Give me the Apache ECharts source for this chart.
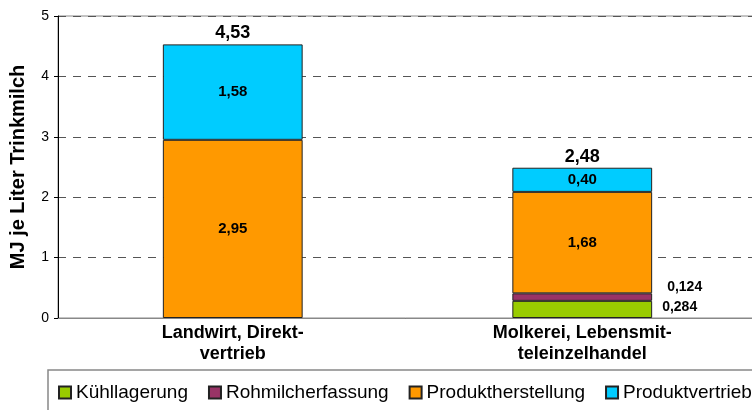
<!DOCTYPE html>
<html>
<head>
<meta charset="utf-8">
<script src="https://cdn.jsdelivr.net/npm/echarts@6/dist/echarts.min.js"></script>
<style>
  html, body { margin: 0; padding: 0; background: #fff; }
  #chart { width: 752px; height: 410px; }
</style>
</head>
<body>
<div id="chart"></div>
<script>
const categories = ['Landwirt, Direkt-\nvertrieb', 'Molkerei, Lebensmit-\nteleinzelhandel'];
const kuehllagerung = ['-', 0.284];
const rohmilcherfassung = ['-', 0.124];
const produktherstellung = [2.95, 1.68];
const produktvertrieb = [1.58, 0.40];
const totals = [4.53, 2.48];
const yTicks = [0, 1, 2, 3, 4, 5];

const FONT = '"Liberation Sans", Arial, sans-serif';

function fmt(v, digits) {
  return Number(v).toFixed(digits).replace('.', ',');
}

const border = { borderColor: '#222', borderWidth: 1 };

const chart = echarts.init(document.getElementById('chart'));

chart.setOption({
  animation: false,
  textStyle: { fontFamily: FONT },
  grid: {
    left: 58, top: 16, right: -5, bottom: 92,
    show: true, borderColor: '#888', borderWidth: 1,
    outerBoundsMode: 'none',
  },
  legend: {
    data: ['Kühllagerung', 'Rohmilcherfassung', 'Produktherstellung', 'Produktvertrieb'],
    left: 48,
    top: 370,
    width: 780,
    padding: [13, 30, 30, 10],
    borderColor: '#888',
    borderWidth: 1.5,
    itemWidth: 12,
    itemHeight: 12,
    itemGap: 20,
    icon: 'rect',
    textStyle: { fontSize: 19, color: '#000', fontFamily: FONT },
  },
  xAxis: {
    type: 'category',
    data: categories,
    axisLine: { lineStyle: { color: '#888', width: 1 } },
    axisTick: { show: false },
    axisLabel: {
      fontSize: 18, fontWeight: 'bold', color: '#000',
      lineHeight: 21, margin: 5, interval: 0,
    },
  },
  yAxis: {
    type: 'value',
    min: yTicks[0],
    max: yTicks[yTicks.length - 1],
    interval: 1,
    name: 'MJ je Liter Trinkmilch',
    nameLocation: 'middle',
    nameGap: 30,
    nameTextStyle: { fontSize: 20, fontWeight: 'bold', color: '#000' },
    axisLine: { show: true, lineStyle: { color: '#000', width: 1 } },
    axisTick: { show: true, length: 4, lineStyle: { color: '#000' } },
    axisLabel: { fontSize: 14, color: '#000', margin: 9 },
    splitLine: { lineStyle: { color: '#555', type: [8, 7], width: 1 } },
  },
  series: [
    {
      name: 'Kühllagerung', type: 'bar', stack: 'a', barWidth: '40%',
      data: kuehllagerung,
      itemStyle: Object.assign({ color: '#99CC00' }, border),
      label: {
        show: true, position: 'right', distance: 10, offset: [0, -2],
        fontSize: 14, fontWeight: 'bold', color: '#000',
        formatter: (p) => fmt(p.value, 3),
      },
    },
    {
      name: 'Rohmilcherfassung', type: 'bar', stack: 'a',
      data: rohmilcherfassung,
      itemStyle: Object.assign({ color: '#993366' }, border),
      label: {
        show: true, position: 'right', distance: 15, offset: [0, -10],
        fontSize: 14, fontWeight: 'bold', color: '#000',
        formatter: (p) => fmt(p.value, 3),
      },
    },
    {
      name: 'Produktherstellung', type: 'bar', stack: 'a',
      data: produktherstellung,
      itemStyle: Object.assign({ color: '#FF9900' }, border),
      label: {
        show: true, position: 'inside',
        fontSize: 15, fontWeight: 'bold', color: '#000',
        formatter: (p) => fmt(p.value, 2),
      },
    },
    {
      name: 'Produktvertrieb', type: 'bar', stack: 'a',
      data: produktvertrieb,
      itemStyle: Object.assign({ color: '#00CCFF' }, border),
      label: {
        show: true, position: 'inside',
        fontSize: 15, fontWeight: 'bold', color: '#000',
        formatter: (p) => fmt(p.value, 2),
      },
    },
    {
      // invisible series carrying the total above each stack
      name: 'Summe', type: 'bar', stack: 'a',
      data: totals.map(() => 0),
      itemStyle: { color: 'transparent', borderWidth: 0 },
      label: {
        show: true, position: 'top', distance: 2,
        fontSize: 18, fontWeight: 'bold', color: '#000',
        formatter: (p) => fmt(totals[p.dataIndex], 2),
      },
    },
  ],
});
</script>
</body>
</html>
